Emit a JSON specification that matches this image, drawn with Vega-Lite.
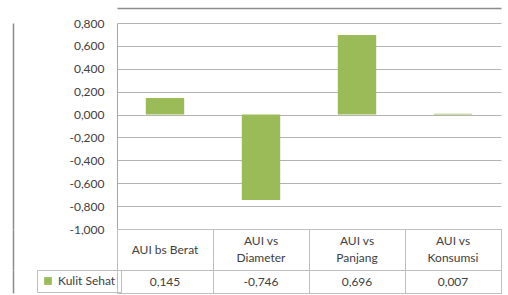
{
  "$schema": "https://vega.github.io/schema/vega-lite/v6.json",
  "padding": {"left": 12, "top": 7, "right": 8, "bottom": 3},
  "background": "white",
  "bounds": "flush",
  "spacing": 0,
  "config": {
    "locale": {"number": {"decimal": ",", "thousands": ".", "grouping": [3], "currency": ["", ""], "minus": "-"}},
    "font": "Lato",
    "view": {"stroke": "#bfbfbf"},
    "concat": {"spacing": 0}
  },
  "datasets": {
    "main": [
      {"category": "AUI bs Berat", "header": "AUI bs Berat", "series": "Kulit Sehat", "value": 0.145},
      {"category": "AUI vs Diameter", "header": "AUI vs\nDiameter", "series": "Kulit Sehat", "value": -0.746},
      {"category": "AUI vs Panjang", "header": "AUI vs\nPanjang", "series": "Kulit Sehat", "value": 0.696},
      {"category": "AUI vs Konsumsi", "header": "AUI vs\nKonsumsi", "series": "Kulit Sehat", "value": 0.007}
    ]
  },
  "data": {"name": "main"},
  "vconcat": [
    {
      "width": 384,
      "height": 206,
      "view": {"stroke": "transparent"},
      "resolve": {"axis": {"y": "independent"}},
      "layer": [
        {
          "mark": {"type": "bar"},
          "encoding": {
            "x": {"field": "category", "type": "nominal", "sort": null,
                  "scale": {"paddingInner": 0.6, "paddingOuter": 0.3},
                  "axis": {"orient": "top", "offset": 15, "labels": false, "ticks": false, "grid": false,
                           "title": null, "domain": true, "domainColor": "#8c8c8c", "domainWidth": 1.5}},
            "y": {"field": "value", "type": "quantitative",
                  "scale": {"domain": [-1, 0.8], "nice": false, "zero": false},
                  "axis": {"values": [-1, -0.8, -0.6, -0.4, -0.2, 0, 0.2, 0.4, 0.6, 0.8],
                           "format": ".3f", "title": null, "ticks": false, "tickSize": 0,
                           "labelPadding": 13, "domainColor": "#a6a6a6", "gridColor": "#b3b3b3",
                           "labelFontSize": 12, "labelColor": "#404040", "labelFont": "Lato"}},
            "color": {"field": "series", "type": "nominal", "scale": {"range": ["#9bbb59"]},
                      "legend": {"orient": "none", "legendX": -80, "legendY": 247, "title": null,
                                 "symbolType": "square", "symbolSize": 60, "symbolStrokeWidth": 0,
                                 "strokeColor": "#bfbfbf", "padding": 5, "labelOffset": 4,
                                 "labelFontSize": 12, "labelColor": "#404040", "labelFont": "Lato"}}
          }
        },
        {
          "mark": {"type": "rule", "opacity": 0},
          "encoding": {
            "y": {"field": "value", "type": "quantitative",
                  "axis": {"orient": "left", "offset": 104, "labels": false, "ticks": false, "grid": false,
                           "title": null, "domain": true, "domainColor": "#8c8c8c", "domainWidth": 1.5}}
          }
        }
      ]
    },
    {
      "width": 384,
      "height": 41,
      "layer": [
        {
          "transform": [{"filter": "indexof(datum.header, '\\n') < 0"}],
          "mark": {"type": "text", "fontSize": 12, "color": "#404040", "baseline": "middle"},
          "encoding": {
            "x": {"field": "category", "type": "nominal", "sort": null,
                  "scale": {"paddingInner": 0, "paddingOuter": 0},
                  "axis": {"tickBand": "extent", "grid": true, "labels": false, "ticks": false,
                           "domain": false, "title": null, "gridColor": "#bfbfbf", "orient": "top"}},
            "text": {"field": "header"}
          }
        },
        {
          "transform": [{"filter": "indexof(datum.header, '\\n') >= 0"}],
          "mark": {"type": "text", "lineBreak": "\n", "fontSize": 12, "lineHeight": 17, "color": "#404040", "baseline": "middle", "dy": -8.5},
          "encoding": {
            "x": {"field": "category", "type": "nominal", "sort": null},
            "text": {"field": "header"}
          }
        },
        {
          "mark": {"type": "rule", "opacity": 0},
          "encoding": {
            "y": {"field": "value", "type": "quantitative",
                  "axis": {"orient": "left", "offset": 104, "labels": false, "ticks": false, "grid": false,
                           "title": null, "domain": true, "domainColor": "#8c8c8c", "domainWidth": 1.5}}
          }
        }
      ]
    },
    {
      "width": 384,
      "height": 23,
      "layer": [
        {
          "mark": {"type": "text", "fontSize": 12, "color": "#404040", "baseline": "middle"},
          "encoding": {
            "x": {"field": "category", "type": "nominal", "sort": null,
                  "scale": {"paddingInner": 0, "paddingOuter": 0},
                  "axis": {"tickBand": "extent", "grid": true, "labels": false, "ticks": false,
                           "domain": false, "title": null, "gridColor": "#bfbfbf", "orient": "top"}},
            "text": {"field": "value", "type": "quantitative", "format": ".3f"}
          }
        },
        {
          "mark": {"type": "rule", "opacity": 0},
          "encoding": {
            "y": {"field": "value", "type": "quantitative",
                  "axis": {"orient": "left", "offset": 104, "labels": false, "ticks": false, "grid": false,
                           "title": null, "domain": true, "domainColor": "#8c8c8c", "domainWidth": 1.5}}
          }
        }
      ]
    }
  ]
}
